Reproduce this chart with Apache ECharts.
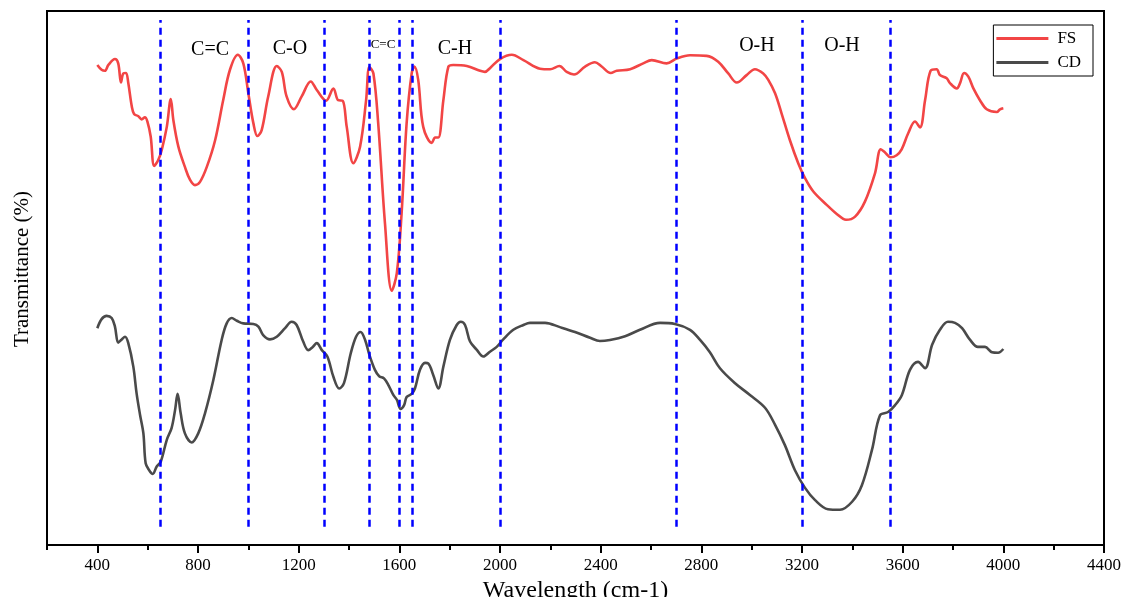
<!DOCTYPE html>
<html>
<head>
<meta charset="utf-8">
<script src="https://cdn.jsdelivr.net/npm/echarts@6/dist/echarts.min.js"></script>
<style>html,body{margin:0;padding:0;background:#fff;}#c{width:1126px;height:597px;}</style>
</head>
<body>
<div id="c"></div>
<script>
// FS spectrum: [wavenumber, transmittance (arb.)]
const fsSpectrum = [[400,89.9],[417,89.0],[430,88.8],[444,89.9],[470,91.0],[483,90.2],[494,86.6],[503,88.3],[514,88.4],[523,86.5],[537,82.1],[546,80.7],[563,80.3],[576,79.7],[589,80.1],[599,79.3],[612,76.5],[626,71.0],[642,72.1],[656,74.0],[676,78.3],[692,83.5],[702,79.6],[722,74.6],[748,70.8],[768,68.4],[788,67.4],[808,68.0],[835,70.8],[868,75.8],[900,83.3],[927,89.0],[958,91.8],[980,90.2],[1000,84.6],[1020,79.0],[1036,76.6],[1053,77.7],[1079,84.0],[1113,89.7],[1133,88.6],[1152,84.0],[1181,81.6],[1212,84.0],[1248,86.8],[1272,85.2],[1309,83.2],[1338,85.5],[1357,83.3],[1375,83.2],[1391,78.3],[1417,71.5],[1444,74.6],[1468,83.3],[1481,89.5],[1497,88.3],[1516,79.0],[1543,60.2],[1570,47.6],[1590,50.9],[1609,62.1],[1629,79.0],[1649,88.3],[1660,89.6],[1675,87.1],[1695,78.3],[1729,75.3],[1742,76.3],[1755,76.3],[1775,83.3],[1795,89.6],[1814,89.9],[1868,89.7],[1921,88.8],[1940,88.6],[1960,89.3],[2000,91.0],[2047,91.8],[2093,90.8],[2159,89.2],[2199,89.1],[2236,89.7],[2265,88.6],[2294,88.1],[2338,89.6],[2377,90.4],[2404,89.6],[2440,88.4],[2464,88.8],[2517,89.1],[2569,90.2],[2603,90.8],[2662,90.2],[2702,91.1],[2755,91.7],[2821,91.6],[2867,90.5],[2907,88.3],[2941,86.6],[2980,88.0],[3013,89.1],[3046,88.3],[3066,87.1],[3093,84.6],[3119,80.8],[3152,75.8],[3185,71.5],[3212,68.7],[3245,66.2],[3298,63.7],[3338,62.0],[3375,60.9],[3411,61.5],[3450,64.3],[3490,69.6],[3513,74.1],[3530,73.5],[3552,72.6],[3576,73.0],[3596,74.1],[3622,77.1],[3649,79.3],[3669,78.2],[3689,83.3],[3711,88.8],[3735,89.1],[3748,88.0],[3775,87.4],[3788,86.5],[3815,85.5],[3828,86.5],[3844,88.4],[3861,87.7],[3881,85.5],[3907,83.3],[3934,81.6],[3974,81.1],[3987,81.6],[4000,81.8]];

// CD spectrum
const cdSpectrum = [[400,40.6],[417,42.3],[437,42.9],[457,42.5],[470,40.9],[483,37.9],[497,38.5],[510,39.0],[523,37.8],[543,33.4],[556,28.4],[570,24.3],[583,20.9],[592,15.3],[606,14.0],[620,13.3],[636,14.7],[652,15.6],[676,19.7],[695,21.9],[709,25.3],[719,28.3],[731,24.7],[748,20.9],[775,19.2],[801,20.9],[828,24.7],[861,30.9],[894,38.4],[914,41.5],[934,42.5],[954,42.0],[980,41.5],[1020,41.4],[1040,40.9],[1059,39.3],[1086,38.5],[1113,39.0],[1146,40.6],[1172,41.8],[1192,41.2],[1218,38.1],[1238,36.5],[1256,37.1],[1272,37.8],[1292,36.5],[1314,35.3],[1338,31.5],[1361,29.3],[1380,30.3],[1407,35.9],[1428,39.0],[1446,39.9],[1464,38.4],[1481,35.6],[1503,32.8],[1520,31.6],[1539,31.2],[1556,30.0],[1576,28.1],[1590,27.2],[1605,25.5],[1619,26.2],[1629,27.7],[1649,28.3],[1662,29.3],[1682,32.8],[1702,34.1],[1715,34.0],[1735,31.8],[1755,29.3],[1775,33.4],[1801,38.4],[1828,41.2],[1844,41.8],[1861,41.2],[1881,38.1],[1907,36.6],[1934,35.3],[1960,36.2],[1987,37.1],[2013,38.5],[2053,40.3],[2093,41.2],[2119,41.6],[2179,41.6],[2238,40.8],[2298,39.9],[2358,38.8],[2397,38.2],[2437,38.4],[2497,39.1],[2556,40.3],[2636,41.6],[2695,41.4],[2755,40.3],[2795,38.4],[2834,36.1],[2874,33.1],[2934,30.3],[2993,28.1],[3053,25.7],[3093,22.5],[3132,18.7],[3172,14.0],[3212,10.7],[3252,8.4],[3303,6.7],[3351,6.6],[3399,8.1],[3438,11.2],[3478,17.8],[3510,24.3],[3542,24.9],[3570,26.2],[3597,28.1],[3629,32.8],[3661,34.3],[3689,33.1],[3717,37.5],[3748,40.3],[3780,41.8],[3808,41.6],[3836,40.6],[3868,38.4],[3899,37.1],[3927,37.1],[3955,36.1],[3979,36.0],[4000,36.7]];

// Dashed band markers (wavenumbers) and their vertical extent
const bandLines = [650, 1000, 1300, 1480, 1600, 1650, 2000, 2700, 3200, 3550];
const bandLineRange = [3.4, 98.3];

// Band annotations
const bandLabels = ['C=C', 'C-O', 'C=C', 'C-H', 'O-H', 'O-H'];
const bandLabelX = [848, 1165, 1535, 1821, 3021, 3359];
const bandLabelY = [92.7, 93.0, 93.8, 93.0, 93.4, 93.4];
const bandLabelSize = [20, 20, 13, 20, 20, 20];

const majorTicks = [400, 800, 1200, 1600, 2000, 2400, 2800, 3200, 3600, 4000, 4400];

const FONT = '"Liberation Serif", "Times New Roman", serif';
const chart = echarts.init(document.getElementById('c'), null, {renderer: 'canvas'});

chart.setOption({
  animation: false,
  backgroundColor: '#fff',
  grid: {left: 47, right: 22, top: 11, bottom: 52, show: true, borderColor: '#000', borderWidth: 2,
         containLabel: false, outerBoundsMode: 'none'},
  legend: {
    orient: 'vertical', right: 33, top: 25,
    borderColor: '#000', borderWidth: 1, borderRadius: 0,
    padding: [5, 12, 5, 3], itemGap: 7,
    itemWidth: 52, itemHeight: 3, icon: 'rect',
    textStyle: {fontFamily: FONT, fontSize: 17, color: '#000', padding: [0, 0, 0, 4]},
    data: ['FS', 'CD']
  },
  xAxis: [{
    type: 'value', min: 200, max: 4400, interval: 200,
    name: 'Wavelength (cm-1)', nameLocation: 'middle', nameGap: 30,
    nameTextStyle: {fontFamily: FONT, fontSize: 24, color: '#000'},
    axisLine: {show: true, lineStyle: {color: '#000', width: 2}},
    axisTick: {show: true, length: 5, lineStyle: {color: '#000', width: 2}},
    axisLabel: {customValues: majorTicks, formatter: v => String(v), fontFamily: FONT, fontSize: 17, color: '#000', margin: 12},
    splitLine: {show: false}
  }, {
    type: 'value', min: 200, max: 4400, position: 'bottom',
    axisLine: {show: false},
    axisTick: {show: true, customValues: majorTicks, length: 8, lineStyle: {color: '#000', width: 2}},
    axisLabel: {show: false},
    splitLine: {show: false}
  }],
  yAxis: {
    type: 'value', min: 0, max: 100,
    name: 'Transmittance (%)', nameLocation: 'middle', nameGap: 14, nameRotate: 90,
    nameTextStyle: {fontFamily: FONT, fontSize: 21, color: '#000', padding: [0, 0, 0, 18]},
    axisLine: {show: true, lineStyle: {color: '#000', width: 2}},
    axisTick: {show: false}, axisLabel: {show: false}, splitLine: {show: false}
  },
  series: [{
    name: 'FS', type: 'line', data: fsSpectrum, symbol: 'none', smooth: 0.35,
    lineStyle: {color: '#f24545', width: 2.6}, itemStyle: {color: '#f24545'},
    z: 3,
    markLine: {
      silent: true, symbol: ['none', 'none'], label: {show: false},
      lineStyle: {color: '#0000ff', type: [7, 5], width: 2.5},
      data: bandLines.map(x => [{coord: [x, bandLineRange[0]]}, {coord: [x, bandLineRange[1]]}])
    },
    markPoint: {
      silent: true, symbol: 'circle', symbolSize: 0,
      data: bandLabels.map((t, i) => ({
        name: t, coord: [bandLabelX[i], bandLabelY[i]],
        label: {show: true, formatter: t, position: 'inside', color: '#000', fontFamily: FONT, fontSize: bandLabelSize[i]}
      }))
    }
  }, {
    name: 'CD', type: 'line', data: cdSpectrum, symbol: 'none', smooth: 0.35,
    lineStyle: {color: '#4a4a4a', width: 2.6}, itemStyle: {color: '#4a4a4a'},
    z: 3
  }]
});
</script>
</body>
</html>
